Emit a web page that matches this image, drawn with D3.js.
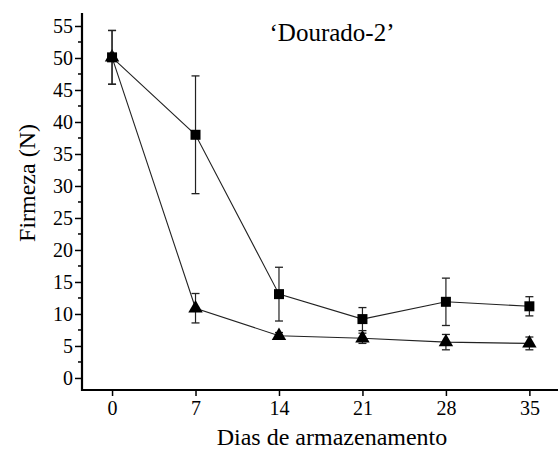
<!DOCTYPE html>
<html>
<head>
<meta charset="utf-8">
<script src="https://cdn.jsdelivr.net/npm/d3@7"></script>
<style>
  body { margin: 0; background: #fff; }
  svg { display: block; }
</style>
</head>
<body>
<svg id="chart" width="558" height="452"></svg>
<script>
// dias de armazenamento
const days = [0, 7, 14, 21, 28, 35];
// serie quadrados
const squareMean = [50.1, 38.0, 13.1, 9.2, 11.9, 11.2];
const squareErr = [4.2, 9.2, 4.2, 1.8, 3.7, 1.5];
// serie triangulos
const triMean = [50.1, 10.9, 6.6, 6.2, 5.6, 5.4];
const triErr = [4.2, 2.3, 0.5, 0.8, 1.2, 1.0];
const yTicks = [0, 5, 10, 15, 20, 25, 30, 35, 40, 45, 50, 55];

const serif = "'Liberation Serif', 'Times New Roman', Times, serif";
const svg = d3.select('#chart');
const padding = { left: 82, right: 0, top: 13, bottom: 62 };
const width = 558, height = 452;

const xScale = d3.scaleLinear()
    .domain([-2.52, 37.4])
    .range([padding.left, width - padding.right]);
const yScale = d3.scaleLinear()
    .domain([-1.88, 57.03])
    .range([height - padding.bottom, padding.top]);

// eixo x
const xAxis = d3.axisBottom(xScale).tickValues(days).tickSize(6).tickPadding(5);
const gx = svg.append('g')
    .attr('transform', 'translate(0,' + (height - padding.bottom) + ')')
    .call(xAxis);
gx.select('.domain').attr('stroke-width', 2.2).attr('d', 'M' + padding.left + ',0H' + width);
gx.selectAll('.tick line').attr('stroke-width', 1.5);
gx.selectAll('text').attr('fill', '#000')
    .style('font-family', serif).style('font-size', '20px');

// eixo y (menor a cada 2.5)
const minorTicks = d3.range(2.5, 57, 5);
svg.append('g')
    .attr('transform', 'translate(' + padding.left + ',0)')
    .selectAll('line').data(minorTicks).join('line')
    .attr('x1', -4).attr('x2', 0)
    .attr('y1', d => yScale(d)).attr('y2', d => yScale(d))
    .attr('stroke', '#000').attr('stroke-width', 1.5);

const yAxis = d3.axisLeft(yScale).tickValues(yTicks).tickSize(7).tickPadding(2);
const gy = svg.append('g')
    .attr('transform', 'translate(' + padding.left + ',0)')
    .call(yAxis);
gy.select('.domain').attr('stroke-width', 2.2)
    .attr('d', 'M0,' + padding.top + 'V' + (height - padding.bottom + 1));
gy.selectAll('.tick line').attr('stroke-width', 1.5);
gy.selectAll('text').attr('fill', '#000')
    .style('font-family', serif).style('font-size', '20px');

// titulos
svg.append('text')
    .attr('x', 332).attr('y', 41)
    .attr('text-anchor', 'middle')
    .style('font-family', serif).style('font-size', '25px')
    .text('\u2018Dourado-2\u2019');
svg.append('text')
    .attr('x', 332).attr('y', 445)
    .attr('text-anchor', 'middle')
    .style('font-family', serif).style('font-size', '24px')
    .text('Dias de armazenamento');
svg.append('text')
    .attr('transform', 'translate(35,183) rotate(-90)')
    .attr('text-anchor', 'middle')
    .style('font-family', serif).style('font-size', '24px')
    .text('Firmeza (N)');

function drawSeries(means, errs, symbolType, size) {
    const data = days.map((d, i) => ({ x: d, y: means[i], e: errs[i] }));
    const g = svg.append('g');
    const line = d3.line().x(d => xScale(d.x)).y(d => yScale(d.y));
    g.append('path')
        .attr('d', line(data))
        .attr('fill', 'none').attr('stroke', '#222').attr('stroke-width', 1.1);
    const eb = g.selectAll('.eb').data(data).join('g');
    eb.append('line')
        .attr('x1', d => xScale(d.x)).attr('x2', d => xScale(d.x))
        .attr('y1', d => yScale(d.y + d.e)).attr('y2', d => yScale(d.y - d.e))
        .attr('stroke', '#222').attr('stroke-width', 1.2);
    [1, -1].forEach(s => {
        eb.append('line')
            .attr('x1', d => xScale(d.x) - 4).attr('x2', d => xScale(d.x) + 4)
            .attr('y1', d => yScale(d.y + s * d.e)).attr('y2', d => yScale(d.y + s * d.e))
            .attr('stroke', '#222').attr('stroke-width', 1.3);
    });
    g.selectAll('.m').data(data).join('path')
        .attr('transform', d => 'translate(' + xScale(d.x) + ',' + yScale(d.y) + ')')
        .attr('d', d3.symbol().type(symbolType).size(size))
        .attr('fill', '#000');
}

drawSeries(triMean, triErr, d3.symbolTriangle, 90);
drawSeries(squareMean, squareErr, d3.symbolSquare, 100);
</script>
</body>
</html>
